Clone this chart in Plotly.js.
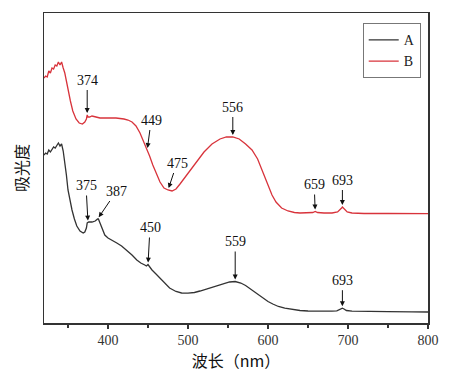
<!DOCTYPE html>
<html>
<head>
<meta charset="utf-8">
<script src="https://cdn.plot.ly/plotly-3.0.1.min.js"></script>
<style>html,body{margin:0;padding:0;background:#fff;}#chart{width:450px;height:379px;}</style>
</head>
<body>
<div id="chart"></div>
<script>
// Series A (black)
var wlA = [320,322,324,326,328,330,332,334,336,338,340,342,344,346,348,350,352,355,358,361,365,369,371,373,374,376,380,384,387,388,390,393,396,400,405,411,417,423,430,436,441,446,448,450,452,455,460,465,470,477,485,492,500,508,515,525,535,546,552,559,566,572,578,583,590,596,600,606,613,621,630,640,650,660,670,680,686,689,691,693,695,698,705,720,750,780,800];
var absA = [1.68,1.70,1.69,1.73,1.71,1.74,1.76,1.75,1.78,1.80,1.77,1.79,1.72,1.62,1.48,1.33,1.24,1.13,1.04,0.97,0.92,0.90,0.91,0.95,1.00,1.01,1.01,1.02,1.04,1.04,1.00,0.93,0.88,0.85,0.83,0.80,0.77,0.73,0.68,0.63,0.60,0.58,0.57,0.585,0.56,0.53,0.49,0.45,0.40,0.35,0.315,0.30,0.298,0.305,0.32,0.345,0.37,0.395,0.41,0.415,0.40,0.375,0.34,0.305,0.265,0.235,0.215,0.19,0.165,0.148,0.135,0.125,0.12,0.118,0.118,0.118,0.122,0.13,0.14,0.148,0.14,0.125,0.118,0.115,0.113,0.112,0.11];
// Series B (red)
var wlB = [320,322,324,326,328,330,332,334,336,338,340,342,344,346,348,350,353,356,360,364,368,371,373,374,375,377,380,385,390,400,410,420,425,430,435,440,445,449,452,456,460,465,470,475,480,485,490,500,510,520,530,540,548,556,564,572,580,587,594,600,605,610,617,625,633,640,650,656,659,662,670,680,687,690,692,693,694,696,699,705,720,750,780,800];
var absB = [2.45,2.47,2.46,2.52,2.50,2.55,2.54,2.58,2.57,2.61,2.58,2.61,2.55,2.50,2.42,2.33,2.22,2.12,2.04,2.00,1.99,2.01,2.04,2.08,2.06,2.06,2.07,2.06,2.05,2.05,2.05,2.04,2.03,2.01,1.97,1.90,1.81,1.73,1.67,1.58,1.50,1.41,1.35,1.33,1.32,1.34,1.39,1.50,1.61,1.71,1.79,1.84,1.86,1.86,1.84,1.79,1.73,1.64,1.50,1.37,1.28,1.21,1.15,1.12,1.105,1.10,1.10,1.105,1.115,1.105,1.10,1.10,1.11,1.13,1.15,1.16,1.15,1.13,1.11,1.10,1.095,1.095,1.093,1.093];
// Peak labels
var peaksA = [375, 387, 450, 559, 693];
var peaksB = [374, 449, 475, 556, 659, 693];
var offA = [[-2,-37],[19,-28],[2,-37],[0,-40],[0,-28]];
var offB = [[0,-35],[4,-30],[9,-27],[0,-30],[-1,-27],[0,-27]];
var tickVals = [400, 500, 600, 700, 800];
var xTitle = '波长（nm）';
var yTitle = '吸光度';

function interp(xs, ys, x) {
  for (var i = 0; i < xs.length - 1; i++) {
    if (x >= xs[i] && x <= xs[i+1]) {
      var t = (x - xs[i]) / (xs[i+1] - xs[i]);
      return ys[i] + t * (ys[i+1] - ys[i]);
    }
  }
  return ys[ys.length-1];
}

var serif = '"Liberation Serif", "DejaVu Serif", serif';
var cjk = '"Noto Sans CJK SC", sans-serif';
var ann = [];
function addPeaks(peaks, offs, xs, ys) {
  peaks.forEach(function(p, i) {
    ann.push({
      x: p, y: interp(xs, ys, p), xref: 'x', yref: 'y',
      text: String(p), showarrow: true, arrowhead: 2, arrowsize: 1, arrowwidth: 1,
      arrowcolor: '#111', ax: offs[i][0], ay: offs[i][1], standoff: 2, borderpad: 2,
      font: {family: serif, size: 14, color: '#111'}
    });
  });
}
addPeaks(peaksA, offA, wlA, absA);
addPeaks(peaksB, offB, wlB, absB);

var traces = [
  {x: wlA, y: absA, mode: 'lines', name: 'A', line: {color: '#333333', width: 1.3}},
  {x: wlB, y: absB, mode: 'lines', name: 'B', line: {color: '#d8333b', width: 1.3}}
];

var layout = {
  width: 450, height: 379,
  margin: {l: 44, r: 22, t: 13, b: 56},
  paper_bgcolor: '#fff', plot_bgcolor: '#fff',
  font: {family: serif},
  showlegend: true,
  legend: {x: 0.83, y: 0.967, xanchor: 'left', yanchor: 'top', bgcolor: '#fff',
    bordercolor: '#777', borderwidth: 1, font: {family: serif, size: 14, color: '#222'},
    tracegroupgap: 0, itemwidth: 30},
  xaxis: {range: [320, 800], tickvals: tickVals, ticks: 'outside', ticklen: 4, tickwidth: 1.2,
    tickcolor: '#333', showline: true, linecolor: '#333', linewidth: 1.5, mirror: true,
    showgrid: false, zeroline: false,
    minor: {dtick: 50, tick0: 350, ticks: 'outside', ticklen: 3, tickcolor: '#333', showgrid: false},
    tickfont: {family: serif, size: 14, color: '#333'},
    title: {text: xTitle, font: {family: cjk, size: 16, color: '#111'}, standoff: 8}},
  yaxis: {range: [0, 3.10], showticklabels: false, ticks: '', showgrid: false, zeroline: false,
    showline: true, linecolor: '#333', linewidth: 1.5, mirror: true,
    title: {text: yTitle, font: {family: cjk, size: 16, color: '#111'}, standoff: 10}},
  annotations: ann
};

Plotly.newPlot('chart', traces, layout, {displayModeBar: false, staticPlot: true});
</script>
</body>
</html>
